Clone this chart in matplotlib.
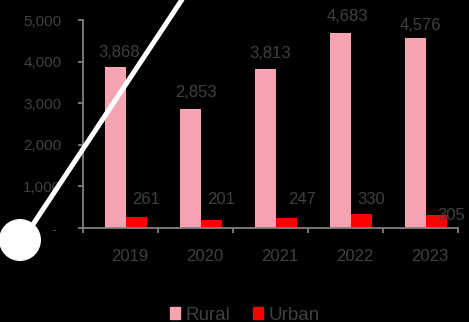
import matplotlib
matplotlib.use('Agg')
import matplotlib.pyplot as plt
from matplotlib.lines import Line2D
from matplotlib.patches import Circle, Patch
from matplotlib.ticker import FuncFormatter
import numpy as np

years = ['2019', '2020', '2021', '2022', '2023']
rural = [3868, 2853, 3813, 4683, 4576]
urban = [261, 201, 247, 330, 305]

# nudges for the value labels, pixels (dx, dy above the bar top)
rural_off = [(4, 10), (6, 12), (5, 11), (7, 12), (5, 8)]
urban_off = [(10, 13), (10, 16), (16, 14), (10, 10), (15, -5)]

PINK = '#f7a3b1'
RED = '#ff0000'
TXT = '#404040'
AXC = '#808080'

plt.rcParams['font.family'] = ['Liberation Sans', 'DejaVu Sans']

fig = plt.figure(figsize=(4.69, 3.22), dpi=100, facecolor='black')
ax = fig.add_axes([83 / 469, 94 / 322, 375 / 469, 208 / 322])
ax.set_facecolor('black')

x = np.arange(len(years))
w = 0.28
xr = x - 0.073
xu = x + 0.207
ax.bar(xr, rural, w, color=PINK, label='Rural')
ax.bar(xu, urban, w, color=RED, label='Urban')

for xi, v, (dx, dy) in zip(xr, rural, rural_off):
    ax.annotate(f'{v:,}', (xi, v), xytext=(dx, dy), textcoords='offset pixels',
                ha='center', va='baseline', color=TXT, fontsize=12)
for xi, v, (dx, dy) in zip(xu, urban, urban_off):
    ax.annotate(f'{v:,}', (xi, v), xytext=(dx, dy), textcoords='offset pixels',
                ha='center', va='baseline', color=TXT, fontsize=12)

ax.set_xlim(-0.5, 4.5)
ax.set_ylim(0, 5000)
for s in ['top', 'right']:
    ax.spines[s].set_visible(False)
for s in ['left', 'bottom']:
    ax.spines[s].set_color(AXC)
    ax.spines[s].set_linewidth(1.3)

ax.set_yticks(range(0, 5001, 1000))
ax.yaxis.set_major_formatter(
    FuncFormatter(lambda v, p: '- ' if v == 0 else f'{v:,.0f}'))
ax.tick_params(axis='y', color=AXC, labelcolor=TXT, length=3.6, width=1.3,
               labelsize=11, pad=12)

ax.set_xticks(x + 0.12, years)
ax.set_xticks(np.arange(-0.5, 5), minor=True)
ax.tick_params(axis='x', which='major', length=0, pad=15, labelsize=12,
               labelcolor=TXT)
ax.tick_params(axis='x', which='minor', length=3.6, width=1.3, color=AXC)

fig.legend(handles=[Patch(color=PINK, label='Rural'),
                    Patch(color=RED, label='Urban')],
           loc='center', bbox_to_anchor=(245 / 469, 7 / 322), ncol=2,
           frameon=False, fontsize=13.5, labelcolor=TXT, handlelength=0.55,
           handleheight=0.55, handletextpad=0.3, columnspacing=1.2,
           borderpad=0, borderaxespad=0)

# white pointer over the chart
fig.add_artist(Line2D([186 / 469, 22 / 469], [1.02, 81 / 322],
                      transform=fig.transFigure, color='white', lw=3.6,
                      solid_capstyle='butt'))
fig.add_artist(Circle((0.20, 0.82), 0.21, transform=fig.dpi_scale_trans,
                      facecolor='white', edgecolor='none'))

fig.savefig('out.png', dpi=100, facecolor='black')
